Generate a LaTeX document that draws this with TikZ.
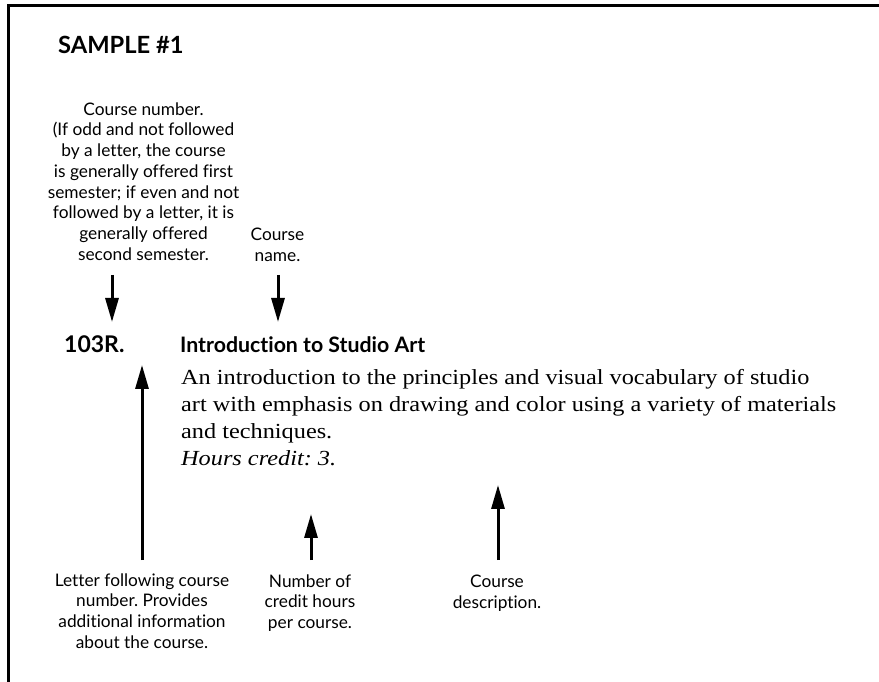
\documentclass[tikz,border=0pt]{standalone}
\usepackage{fontspec}
\setmainfont[FakeStretch=1.13]{Liberation Serif}
\newfontfamily\labfont[Ligatures=CommonOff]{Lato}
\usetikzlibrary{arrows.meta}
\frenchspacing
\tikzset{
  lab/.style={align=center, inner sep=0pt, font=\labfont\frenchspacing\fontsize{17.3}{20.8}\selectfont},
  head/.style={inner sep=0pt, anchor=base west, font=\labfont\bfseries\fontsize{23}{27}\selectfont},
  body/.style={inner sep=0pt, anchor=base west, font=\fontsize{21.5}{27}\selectfont},
  arr/.style={line width=3pt, -{Triangle[length=24pt,width=13pt]}},
  frame/.style={line width=3pt, line join=miter}
}
\begin{document}
\begin{tikzpicture}[x=1pt,y=1pt]
\useasboundingbox (0,0) rectangle (879,681);
\draw[frame] (8,-5) -- (8,675) -- (884,675);
\node[head, font=\labfont\bfseries\fontsize{23.7}{27}\selectfont] (title) at (58,627) {SAMPLE \#1};

\node[lab] (numlab) at (143.5,499.5) {Course number.\\(If odd and not followed\\by a letter, the course\\is generally offered first\\semester; if even and not\\followed by a letter, it is\\generally offered\\second semester.};
\node[lab] (namelab) at (277.5,436.5) {Course\\name.};

\node[head] (num) at (64,328) {103R.};
\node[head, font=\labfont\bfseries\fontsize{21.3}{27}\selectfont] (name) at (180,328) {Introduction to Studio Art};
\node[body] (desc1) at (181,296) {An introduction to the principles and visual vocabulary of studio};
\node[body] (desc2) at (181,269) {art with emphasis on drawing and color using a variety of materials};
\node[body] (desc3) at (181,242) {and techniques.};
\node[body] (credit) at (181,215) {\itshape Hours credit: 3.};

\node[lab] (letterlab) at (142,70) {Letter following course\\number. Provides\\additional information\\about the course.};
\node[lab] (hourslab) at (310,78) {Number of\\credit hours\\per course.};
\node[lab] (desclab) at (497,88) {Course\\description.};

\coordinate (a1s) at (112,406); \coordinate (a1e) at (112,359);
\coordinate (a2s) at (278,406); \coordinate (a2e) at (278,359);
\coordinate (a3s) at (142,121); \coordinate (a3e) at (142,316);
\coordinate (a4s) at (311,121); \coordinate (a4e) at (311,167);
\coordinate (a5s) at (498,121); \coordinate (a5e) at (498,196);
\draw[arr] (a1s) -- (a1e);
\draw[arr] (a2s) -- (a2e);
\draw[arr] (a3s) -- (a3e);
\draw[arr] (a4s) -- (a4e);
\draw[arr] (a5s) -- (a5e);
\end{tikzpicture}
\end{document}
